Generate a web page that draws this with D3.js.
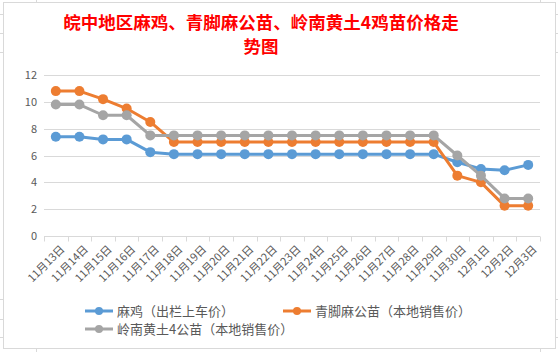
<!DOCTYPE html>
<html>
<head>
<meta charset="utf-8">
<script src="https://cdn.jsdelivr.net/npm/d3@7"></script>
<style>
  body { margin: 0; background: #fff; }
  text { font-family: "Noto Sans CJK SC", "Microsoft YaHei", sans-serif; }
</style>
</head>
<body>
<svg id="chart"></svg>
<script>
// DATA ////////////////////////////////////////////////////////////////
var dates = ["11月13日","11月14日","11月15日","11月16日","11月17日","11月18日","11月19日",
  "11月20日","11月21日","11月22日","11月23日","11月24日","11月25日","11月26日","11月27日",
  "11月28日","11月29日","11月30日","12月1日","12月2日","12月3日"];

var maji = [7.4,7.4,7.2,7.2,6.25,6.1,6.1,6.1,6.1,6.1,6.1,6.1,6.1,6.1,6.1,6.1,6.1,5.5,5.0,4.9,5.3];
var qingjiao = [10.8,10.8,10.2,9.5,8.5,7,7,7,7,7,7,7,7,7,7,7,7,4.5,4.0,2.25,2.25];
var lingnan = [9.8,9.8,9.0,9.0,7.5,7.5,7.5,7.5,7.5,7.5,7.5,7.5,7.5,7.5,7.5,7.5,7.5,6.0,4.5,2.8,2.8];

var seriesNames = ["麻鸡（出栏上车价）","青脚麻公苗（本地销售价）","岭南黄土4公苗（本地销售价）"];
var seriesColors = ["#5b9bd5","#ed7d31","#a5a5a5"];
var yTicks = [0,2,4,6,8,10,12];
var titleLines = ["皖中地区麻鸡、青脚麻公苗、岭南黄土4鸡苗价格走", "势图"];

// SETUP ///////////////////////////////////////////////////////////////
const W = 558, H = 352;
const LEFT = 44, RIGHT = 540, TOP = 75, BOTTOM = 236;

var svg = d3.select('#chart').attr('width', W).attr('height', H);

// spreadsheet gridline stubs around the chart frame
var stubs = svg.append("g").attr("stroke", "#d9d9d9").attr("stroke-width", 1);
[14, 33, 52, 299, 319, 337].forEach(function (y) {
    stubs.append("line").attr("x1", 0).attr("x2", 3).attr("y1", y + 0.5).attr("y2", y + 0.5);
    stubs.append("line").attr("x1", 556).attr("x2", 558).attr("y1", y + 0.5).attr("y2", y + 0.5);
});
[36, 540].forEach(function (x) {
    stubs.append("line").attr("x1", x + 0.5).attr("x2", x + 0.5).attr("y1", 0).attr("y2", 2);
    stubs.append("line").attr("x1", x + 0.5).attr("x2", x + 0.5).attr("y1", 349).attr("y2", 352);
});

// chart frame
svg.append("rect")
    .attr("x", 3.5).attr("y", 2.5)
    .attr("width", 552).attr("height", 346)
    .attr("fill", "#fff").attr("stroke", "#d9d9d9");

// title (two lines)
svg.selectAll(".title")
    .data(titleLines)
    .enter()
    .append("text")
    .attr("class", "title")
    .attr("x", 261)
    .attr("y", function (d, i) { return 29 + i * 24; })
    .attr("text-anchor", "middle")
    .style("font-size", "17.5px")
    .style("font-weight", "bold")
    .style("fill", "#ff0000")
    .text(function (d) { return d; });

// scales
var x = d3.scaleBand().domain(dates).range([LEFT, RIGHT]);
var y = d3.scaleLinear().domain([0, 12]).range([BOTTOM, TOP]);

// gridlines
svg.append("g")
    .selectAll("line")
    .data(yTicks.slice(1))
    .enter()
    .append("line")
    .attr("x1", LEFT).attr("x2", RIGHT)
    .attr("y1", function (d) { return Math.round(y(d)) + 0.5; })
    .attr("y2", function (d) { return Math.round(y(d)) + 0.5; })
    .attr("stroke", "#d9d9d9");

// y labels
svg.append("g")
    .selectAll("text")
    .data(yTicks)
    .enter()
    .append("text")
    .attr("x", 37)
    .attr("y", function (d) { return y(d) + 4; })
    .attr("text-anchor", "end")
    .style("font-size", "11px")
    .style("fill", "#595959")
    .text(function (d) { return d; });

// x axis
var xAxis = svg.append("g")
    .attr("transform", "translate(0," + (Math.round(BOTTOM) + 0.5) + ")");
xAxis.append("line").attr("x1", LEFT).attr("x2", RIGHT).attr("stroke", "#d9d9d9");
xAxis.selectAll(".tick")
    .data(dates.concat(["end"]))
    .enter()
    .append("line")
    .attr("x1", function (d, i) { return Math.round(LEFT + i * x.step()) + 0.5; })
    .attr("x2", function (d, i) { return Math.round(LEFT + i * x.step()) + 0.5; })
    .attr("y1", 0).attr("y2", 5)
    .attr("stroke", "#d9d9d9");

xAxis.selectAll("text")
    .data(dates)
    .enter()
    .append("text")
    .attr("transform", function (d) {
        return "translate(" + (x(d) + x.bandwidth() / 2 + 4) + ",8) rotate(-45)";
    })
    .attr("text-anchor", "end")
    .attr("dy", "0.7em")
    .style("font-size", "11px")
    .style("fill", "#595959")
    .text(function (d) { return d; });

// lines
var allSeries = [maji, qingjiao, lingnan];
var line = d3.line()
    .x(function (d, i) { return x(dates[i]) + x.bandwidth() / 2; })
    .y(function (d) { return y(d); });

allSeries.forEach(function (vals, k) {
    var g = svg.append("g");
    g.append("path")
        .attr("d", line(vals))
        .attr("fill", "none")
        .attr("stroke", seriesColors[k])
        .attr("stroke-width", 3)
        .attr("stroke-linejoin", "round");
    g.selectAll("circle")
        .data(vals)
        .enter()
        .append("circle")
        .attr("cx", function (d, i) { return x(dates[i]) + x.bandwidth() / 2; })
        .attr("cy", function (d) { return y(d); })
        .attr("r", 5)
        .attr("fill", seriesColors[k]);
});

// legend
var legendPos = [[85, 311], [283, 311], [85, 329]];
seriesNames.forEach(function (name, k) {
    var lg = svg.append("g").attr("transform", "translate(" + legendPos[k][0] + "," + legendPos[k][1] + ")");
    lg.append("line").attr("x1", 0).attr("x2", 28).attr("stroke", seriesColors[k]).attr("stroke-width", 3);
    lg.append("circle").attr("cx", 14).attr("r", 4).attr("fill", seriesColors[k]);
    lg.append("text")
        .attr("x", 32).attr("y", 5)
        .style("font-size", "13px")
        .style("fill", "#595959")
        .text(name);
});
</script>
</body>
</html>
